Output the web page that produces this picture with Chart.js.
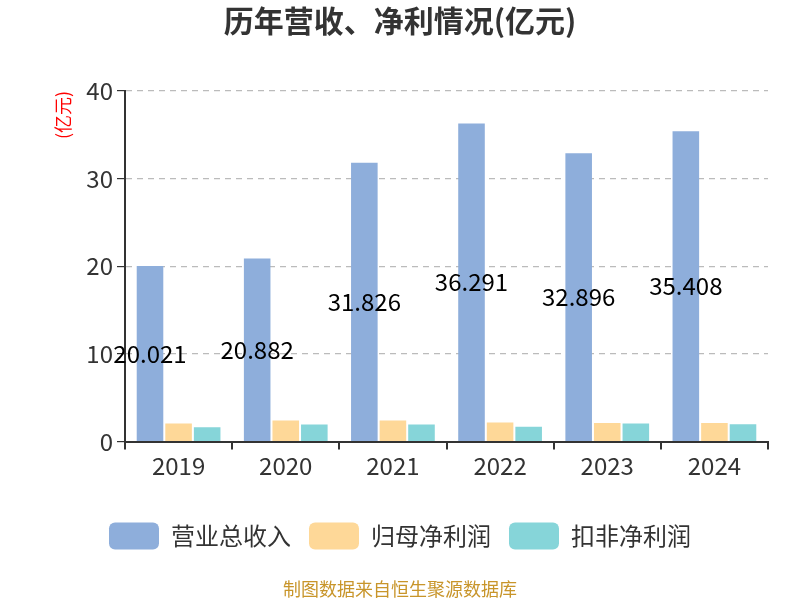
<!DOCTYPE html>
<html>
<head>
<meta charset="utf-8">
<script src="https://cdn.jsdelivr.net/npm/chart.js@4/dist/chart.umd.min.js"></script>
<style>
  html, body { margin: 0; padding: 0; background: #fff; }
  #wrap { width: 800px; height: 600px; }
</style>
</head>
<body>
<div id="wrap"><canvas id="myChart"></canvas></div>
<script>
var years = ["2019", "2020", "2021", "2022", "2023", "2024"];
var revenue = [20.021, 20.882, 31.826, 36.291, 32.896, 35.408];
var netProfit = [2.06, 2.4, 2.4, 2.17, 2.13, 2.13];
var deductedProfit = [1.64, 1.94, 1.94, 1.68, 2.06, 1.98];
var yTicks = [0, 10, 20, 30, 40];

var fontFamily = "'Noto Sans CJK SC', 'Noto Sans', sans-serif";

// revenue labels in the middle of each blue bar, plus the red unit label
var extras = {
  id: "extras",
  afterDatasetsDraw: function (chart) {
    var ctx = chart.ctx;
    var meta = chart.getDatasetMeta(0);
    ctx.save();
    ctx.font = "24px " + fontFamily;
    ctx.fillStyle = "#000";
    ctx.textAlign = "center";
    ctx.textBaseline = "middle";
    meta.data.forEach(function (bar, i) {
      var mid = (bar.y + bar.base) / 2;
      ctx.fillText(revenue[i].toFixed(3), bar.x, mid);
    });
    ctx.restore();

    ctx.save();
    ctx.translate(63, 115);
    ctx.rotate(-Math.PI / 2);
    ctx.font = "18px " + fontFamily;
    ctx.fillStyle = "#ff0000";
    ctx.textAlign = "center";
    ctx.textBaseline = "middle";
    ctx.fillText("(亿元)", 0, 0);
    ctx.restore();
  }
};

new Chart("myChart", {
  type: "bar",
  data: {
    labels: years,
    datasets: [
      { label: "营业总收入", data: revenue, backgroundColor: "#8eaedb" },
      { label: "归母净利润", data: netProfit, backgroundColor: "#fed898" },
      { label: "扣非净利润", data: deductedProfit, backgroundColor: "#86d5d9" }
    ]
  },
  options: {
    responsive: true,
    maintainAspectRatio: false,
    animation: false,
    layout: { padding: { left: 32, right: 32, top: 0, bottom: 0 } },
    datasets: { bar: { categoryPercentage: 0.8, barPercentage: 0.93 } },
    plugins: {
      title: {
        display: true,
        text: "历年营收、净利情况(亿元)",
        color: "#333",
        font: { family: fontFamily, size: 30, weight: "bold" },
        padding: { top: 3, bottom: 52 }
      },
      legend: {
        position: "bottom",
        labels: {
          boxWidth: 50,
          boxHeight: 27,
          useBorderRadius: true,
          borderRadius: 6,
          padding: 18,
          color: "#333",
          font: { family: fontFamily, size: 24 }
        }
      },
      subtitle: {
        display: true,
        position: "bottom",
        text: "制图数据来自恒生聚源数据库",
        color: "#c8952a",
        font: { family: fontFamily, size: 18 },
        padding: { top: 19, bottom: 0 }
      },
      tooltip: { enabled: false }
    },
    scales: {
      x: {
        afterFit: function (scale) { scale.height += 22; },
        grid: { display: true, drawOnChartArea: false, offset: true, color: "#333", lineWidth: 2, tickLength: 8 },
        border: { color: "#333", width: 2 },
        ticks: { color: "#333", font: { family: fontFamily, size: 24 }, padding: 2 }
      },
      y: {
        min: 0,
        max: 40,
        afterFit: function (scale) { scale.width = 93; },
        afterBuildTicks: function (scale) {
          scale.ticks = yTicks.map(function (v) { return { value: v }; });
        },
        grid: { color: "#bbb", lineWidth: 1.2, tickLength: 8, tickColor: "#333" },
        border: { color: "#333", width: 2, dash: [6, 5] },
        ticks: { color: "#333", font: { family: fontFamily, size: 24 }, padding: 4 }
      }
    }
  },
  plugins: [extras]
});
</script>
</body>
</html>
